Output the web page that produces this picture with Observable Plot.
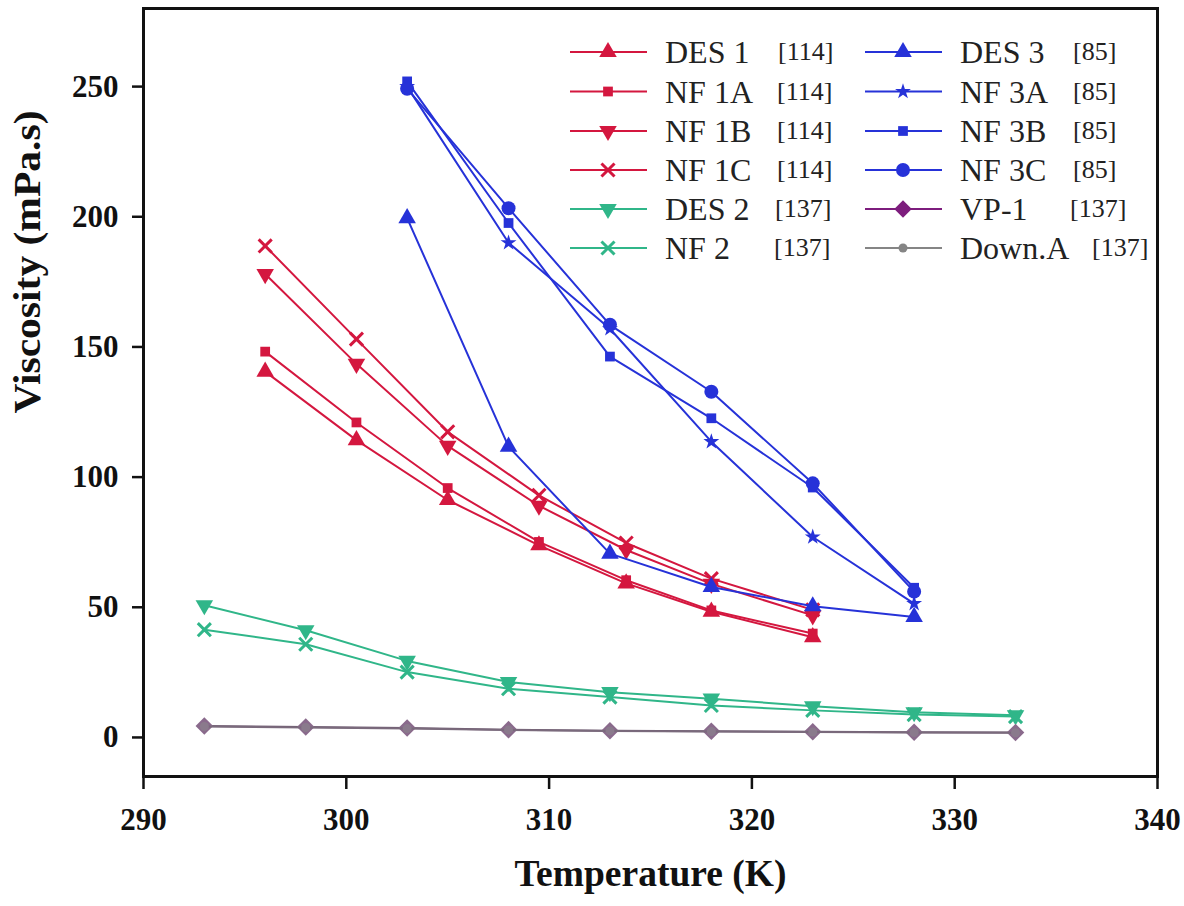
<!DOCTYPE html>
<html><head><meta charset="utf-8">
<script src="https://cdn.jsdelivr.net/npm/d3@7"></script>
<script src="https://cdn.jsdelivr.net/npm/@observablehq/plot@0.6"></script>
<style>body{margin:0;background:#fff}#chart svg{display:block}</style>
</head><body><div id="chart"></div>
<script>
// ---- axis ticks ----
const xTicks = [290, 300, 310, 320, 330, 340];
const yTicks = [0, 50, 100, 150, 200, 250];

// ---- temperatures (K) ----
const tempRef114 = [296, 300.5, 305, 309.5, 313.8, 318, 323];
const tempRef85 = [303, 308, 313, 318, 323, 328];
const tempRef137 = [293, 298, 303, 308, 313, 318, 323, 328, 333];

// ---- viscosities (mPa.s) ----
const des1 = [140.5, 114.2, 91.2, 73.8, 59.2, 48.3, 38.5];
const nf1A = [148.2, 121.0, 95.8, 75.1, 60.4, 48.8, 39.9];
const nf1B = [178.0, 143.5, 112.0, 89.0, 72.0, 59.0, 46.9];
const nf1C = [188.8, 153.0, 117.4, 93.0, 74.7, 61.0, 49.0];
const des2 = [50.8, 41.2, 29.4, 21.3, 17.4, 14.9, 12.0, 9.7, 8.5];
const nf2 = [41.4, 35.8, 25.1, 18.7, 15.5, 12.3, 10.4, 8.8, 8.0];
const des3 = [199.5, 111.7, 70.6, 57.8, 50.4, 46.3];
const nf3A = [250.0, 190.0, 157.0, 113.6, 77.0, 51.4];
const nf3B = [252.0, 197.6, 146.3, 122.6, 96.0, 57.5];
const nf3C = [249.2, 203.3, 158.5, 132.8, 97.6, 56.0];
const vp1 = [4.4, 4.0, 3.6, 3.0, 2.6, 2.4, 2.2, 2.0, 1.9];
const downA = [4.2, 3.8, 3.4, 2.9, 2.5, 2.3, 2.1, 1.9, 1.8];

// ---- legend labels ----
const names = ["DES 1", "NF 1A", "NF 1B", "NF 1C", "DES 2", "NF 2", "DES 3", "NF 3A", "NF 3B", "NF 3C", "VP-1", "Down.A"];
const refs = ["[114]", "[114]", "[114]", "[114]", "[137]", "[137]", "[85]", "[85]", "[85]", "[85]", "[137]", "[137]"];

// ---- styling ----
const SERIF = "Liberation Serif, Times New Roman, serif";
const RED = "#d4173f", BLUE = "#2632d8", GREEN = "#30b689", PURPLE = "#7d1d7d", GREY = "#858585";
const series = [
  {T: tempRef114, V: des1, color: RED, symbol: "triangle", rot: 0, r: 6.5},
  {T: tempRef114, V: nf1A, color: RED, symbol: "square", rot: 0, r: 5.5},
  {T: tempRef114, V: nf1B, color: RED, symbol: "triangle", rot: 180, r: 6.5},
  {T: tempRef114, V: nf1C, color: RED, symbol: "times", rot: 0, r: 6, stroked: true},
  {T: tempRef137, V: des2, color: GREEN, symbol: "triangle", rot: 180, r: 6.5},
  {T: tempRef137, V: nf2, color: GREEN, symbol: "times", rot: 0, r: 6, stroked: true},
  {T: tempRef85, V: des3, color: BLUE, symbol: "triangle", rot: 0, r: 6.5},
  {T: tempRef85, V: nf3A, color: BLUE, symbol: "star", rot: 0, r: 5},
  {T: tempRef85, V: nf3B, color: BLUE, symbol: "square", rot: 0, r: 5.5},
  {T: tempRef85, V: nf3C, color: BLUE, symbol: "circle", rot: 0, r: 7},
  {T: tempRef137, V: vp1, color: PURPLE, dotFill: "#8a6a8c", lineColor: "#6e5a70", symbol: "square", rot: 45, r: 7},
  {T: tempRef137, V: downA, color: GREY, dotFill: "#8a7a8c", lineColor: "#7a6a7c", symbol: "circle", rot: 0, r: 4.5}
];
series.forEach((s, i) => { s.name = names[i]; s.ref = refs[i]; });

const drawOrder = [4, 5, 10, 11, 0, 1, 2, 3, 6, 7, 8, 9];
const marks = [];
for (const i of drawOrder) {
  const s = series[i];
  const rows = s.T.map((t, k) => ({T: t, V: s.V[k]}));
  marks.push(Plot.line(rows, {x: "T", y: "V", stroke: s.lineColor || s.color, strokeWidth: 2}));
  marks.push(Plot.dot(rows, s.stroked
    ? {x: "T", y: "V", symbol: s.symbol, stroke: s.color, strokeWidth: 3, r: s.r}
    : {x: "T", y: "V", symbol: s.symbol, fill: s.dotFill || s.color, stroke: "none", r: s.r, rotate: s.rot}));
}

const chart = Plot.plot({
  width: 1184, height: 906,
  marginLeft: 143, marginRight: 27, marginTop: 8, marginBottom: 130,
  x: {domain: [290, 340]},
  y: {domain: [-15, 280]},
  style: {fontFamily: SERIF, background: "#fff", color: "#111"},
  marks: [
    ...marks,
    Plot.axisY({ticks: yTicks, tickSize: 11, tickPadding: 14, fontSize: 31, fontWeight: "bold", fontFamily: SERIF, strokeWidth: 2.5, label: null}),
    Plot.axisX({ticks: xTicks, tickSize: 13, tickPadding: 18, fontSize: 31, fontWeight: "bold", fontFamily: SERIF, strokeWidth: 2.5, label: null, tickFormat: d => String(d)}),
    Plot.frame({stroke: "#111", strokeWidth: 3}),
    Plot.text(["Viscosity (mPa.s)"], {text: d => d, frameAnchor: "left", dx: -116, dy: 21, rotate: -90, fontSize: 38, fontWeight: "bold", fontFamily: SERIF, fill: "#111"}),
    Plot.text(["Temperature (K)"], {text: d => d, frameAnchor: "bottom", dy: 109, fontSize: 38, fontWeight: "bold", fontFamily: SERIF, fill: "#111"})
  ]
});
document.getElementById("chart").append(chart);

// condense axis titles to match
d3.select(chart).selectAll("text").each(function() {
  const t = this.textContent;
  if (t === "Viscosity (mPa.s)") { this.setAttribute("textLength", 303); this.setAttribute("lengthAdjust", "spacingAndGlyphs"); }
  if (t === "Temperature (K)") { this.setAttribute("textLength", 272); this.setAttribute("lengthAdjust", "spacingAndGlyphs"); }
});

// ---- legend (two columns, inside plot, top right) ----
const symMap = {triangle: d3.symbolTriangle, square: d3.symbolSquare, times: d3.symbolTimes, star: d3.symbolStar, circle: d3.symbolCircle};
const colX = [570, 865];
const rowY = [52, 91.5, 131, 170, 209, 248];
const refX = [778, 777, 777, 777, 775, 774, 1073, 1073, 1073, 1073, 1070, 1092];
const lg = d3.select(chart).append("g").attr("text-anchor", "start");
series.forEach((s, i) => {
  const cx = colX[Math.floor(i / 6)], cy = rowY[i % 6];
  const g = lg.append("g").attr("transform", `translate(${cx},${cy})`);
  g.append("line").attr("x1", 0).attr("x2", 77).attr("y1", 0).attr("y2", 0)
    .attr("stroke", s.color).attr("stroke-width", 2);
  const sym = d3.symbol(symMap[s.symbol], Math.PI * s.r * s.r)();
  const p = g.append("path").attr("d", sym)
    .attr("transform", `translate(38,0) rotate(${s.rot})`);
  if (s.stroked) p.attr("fill", "none").attr("stroke", s.color).attr("stroke-width", 3);
  else p.attr("fill", s.color);
  g.append("text").attr("x", 95).attr("y", 11).attr("text-anchor", "start")
    .style("font", `32px ${SERIF}`).attr("fill", "#222").text(s.name);
  g.append("text").attr("x", refX[i] - cx).attr("y", 8).attr("text-anchor", "start")
    .style("font", `26px ${SERIF}`).attr("fill", "#222").text(s.ref);
});
</script></body></html>
